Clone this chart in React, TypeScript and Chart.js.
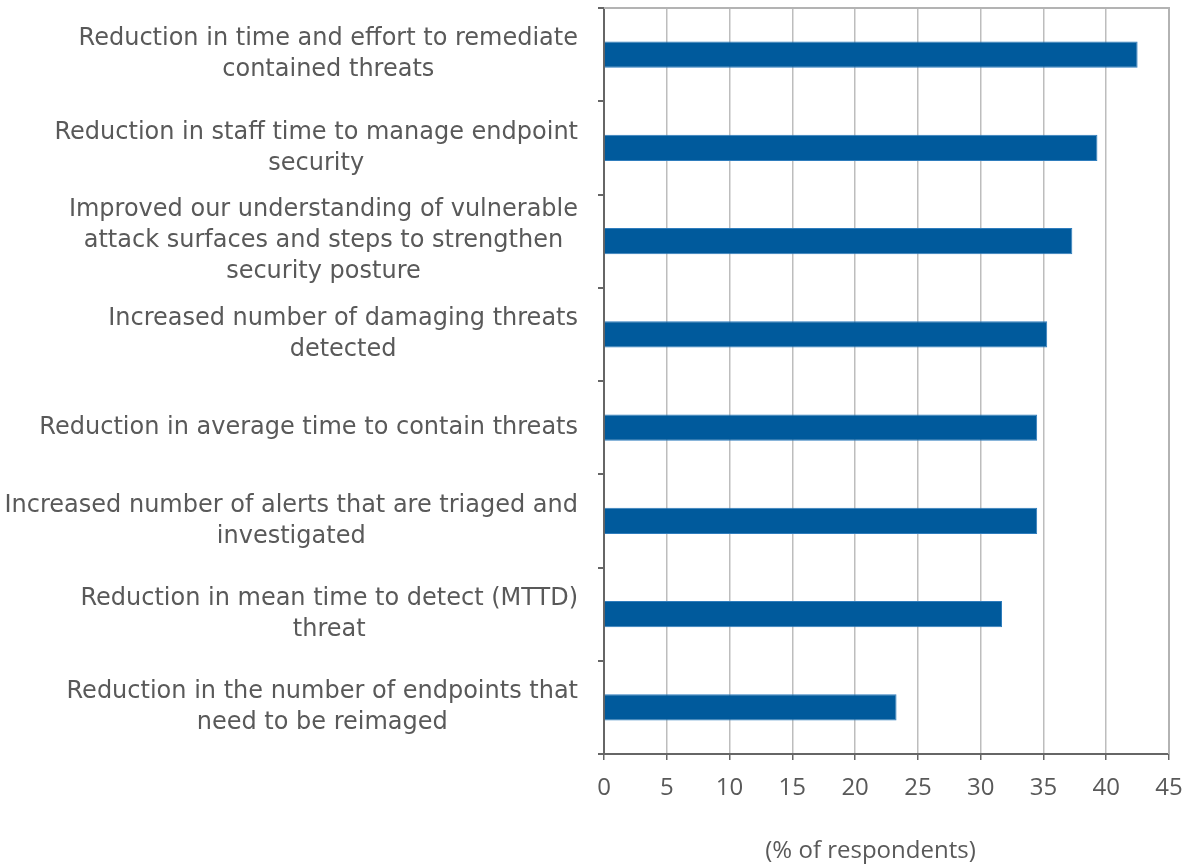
import React, { useEffect, useRef } from "react";
import { Chart, registerables } from "chart.js";

Chart.register(...registerables);

const categories: string[][] = [
  ["Reduction in time and effort to remediate", "contained threats"],
  ["Reduction in staff time to manage endpoint", "security"],
  ["Improved our understanding of vulnerable", "attack surfaces and steps to strengthen", "security posture"],
  ["Increased number of damaging threats", "detected"],
  ["Reduction in average time to contain threats"],
  ["Increased number of alerts that are triaged and", "investigated"],
  ["Reduction in mean time to detect (MTTD)", "threat"],
  ["Reduction in the number of endpoints that", "need to be reimaged"],
];

const values: number[] = [42.5, 39.3, 37.3, 35.3, 34.5, 34.5, 31.7, 23.3];

const xTicks: number[] = [0, 5, 10, 15, 20, 25, 30, 35, 40, 45];
const xTitle = "(% of respondents)";

const FONT = "'DejaVu Sans', sans-serif";
const TICK_FONT = "'Open Sans', sans-serif";
const TEXT_COLOR = "#595959";

const labelPlugin = {
  id: "blockLabels",
  afterDraw(chart: any) {
    const ctx = chart.ctx;
    const yScale = chart.scales.y;
    const xScale = chart.scales.x;
    const right = xScale.left - 26;
    const lineH = 31;
    ctx.save();
    ctx.font = `24px ${FONT}`;
    ctx.fillStyle = TEXT_COLOR;
    ctx.textAlign = "center";
    ctx.textBaseline = "middle";
    categories.forEach((lines, i) => {
      const cy = yScale.getPixelForValue(i);
      const maxW = Math.max(...lines.map((l) => ctx.measureText(l).width));
      const cx = right - maxW / 2;
      const startY = cy - ((lines.length - 1) * lineH) / 2;
      lines.forEach((l, j) => ctx.fillText(l, cx, startY + j * lineH));
    });
    // axis title, slightly left of the plot centre as in the reference
    ctx.font = `24px ${TICK_FONT}`;
    const tx = (xScale.left + xScale.right) / 2 - 16;
    ctx.fillText(xTitle, tx, xScale.bottom - 14);
    ctx.restore();
  },
};

const framePlugin = {
  id: "frame",
  afterDatasetsDraw(chart: any) {
    const { ctx, chartArea } = chart;
    ctx.save();
    ctx.strokeStyle = "#b3b3b3";
    ctx.lineWidth = 2;
    ctx.beginPath();
    ctx.moveTo(chartArea.left, chartArea.top);
    ctx.lineTo(chartArea.right, chartArea.top);
    ctx.lineTo(chartArea.right, chartArea.bottom);
    ctx.stroke();
    ctx.restore();
  },
};

export default function App() {
  const ref = useRef<HTMLCanvasElement | null>(null);
  useEffect(() => {
    if (!ref.current) return;
    const chart = new Chart(ref.current, {
      type: "bar",
      data: {
        labels: categories.map((c) => c.join(" ")),
        datasets: [
          {
            data: values,
            backgroundColor: "#005a9c",
            borderColor: "#2f7dbd",
            borderWidth: 1,
            barPercentage: 0.28,
            categoryPercentage: 1,
          },
        ],
      },
      options: {
        indexAxis: "y",
        animation: false,
        responsive: true,
        maintainAspectRatio: false,
        layout: { padding: { top: 8, right: 21, bottom: 0, left: 0 } },
        plugins: {
          legend: { display: false },
          tooltip: { enabled: false },
        },
        scales: {
          x: {
            min: 0,
            max: 45,
            afterBuildTicks: (scale: any) => {
              scale.ticks = xTicks.map((v) => ({ value: v }));
            },
            afterFit: (scale: any) => {
              scale.height = 111;
              scale.paddingLeft = 0;
              scale.paddingRight = 0;
            },
            ticks: {
              color: TEXT_COLOR,
              font: { family: TICK_FONT, size: 24 },
              padding: 14,
            },
            grid: {
              color: "#bdbdbd",
              tickColor: "#666666",
              tickLength: 6,
              lineWidth: 1.5,
            },
            border: { color: "#666666", width: 2 },
            title: { display: false },
          },
          y: {
            ticks: { display: false },
            afterFit: (scale: any) => {
              scale.width = 604;
            },
            grid: {
              drawOnChartArea: false,
              drawTicks: true,
              tickLength: 6,
              tickColor: "#666666",
              lineWidth: 2,
            },
            border: { color: "#666666", width: 2 },
          },
        },
      },
      plugins: [labelPlugin, framePlugin],
    } as any);
    return () => chart.destroy();
  }, []);
  return (
    <div style={{ position: "fixed", left: 0, top: 0, width: 1190, height: 865, background: "#fff" }}>
      <canvas ref={ref} />
    </div>
  );
}
